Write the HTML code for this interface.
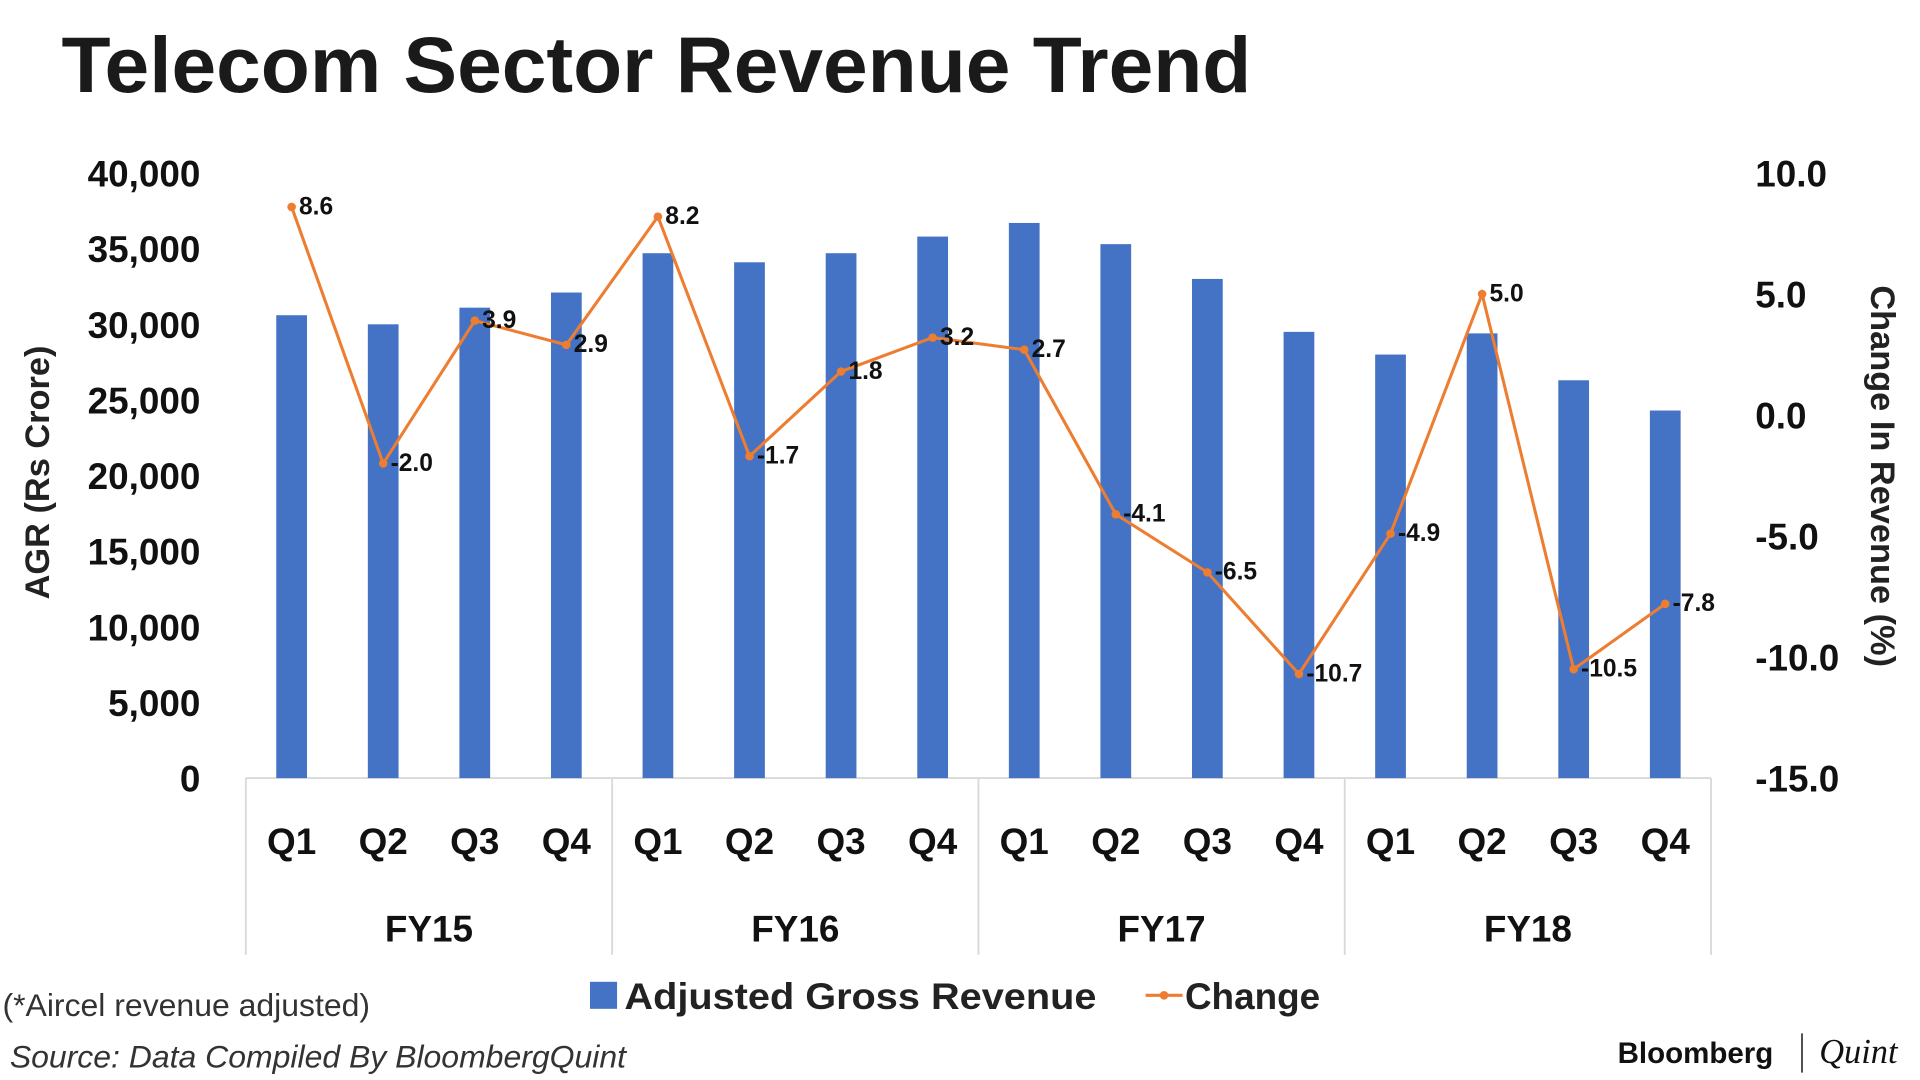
<!DOCTYPE html>
<html><head><meta charset="utf-8"><style>html,body{margin:0;padding:0;background:#fff;}svg{display:block;font-family:"Liberation Sans",sans-serif;}</style></head>
<body>
<svg id="chart" width="1920" height="1080" viewBox="0 0 1562 880" preserveAspectRatio="none" xmlns="http://www.w3.org/2000/svg">
<rect width="1562" height="880" fill="#fff"/>
<text x="50" y="75" font-size="64" font-weight="bold" fill="#1a1a1a" textLength="968" lengthAdjust="spacingAndGlyphs">Telecom Sector Revenue Trend</text>
<text transform="translate(40,385) rotate(-90)" text-anchor="middle" font-size="28" font-weight="bold" fill="#222">AGR (Rs Crore)</text>
<text transform="translate(1522,388) rotate(90)" text-anchor="middle" font-size="28" font-weight="bold" fill="#222">Change In Revenue (%)</text>
<g id="axes"></g>
<g id="bars"></g>
<g id="line"></g>
<g>
<rect x="480" y="800" width="22" height="22" fill="#4472c4"/>
<text x="508" y="822" font-size="30" font-weight="bold" fill="#222" textLength="384" lengthAdjust="spacingAndGlyphs">Adjusted Gross Revenue</text>
<line x1="932" y1="811" x2="962" y2="811" stroke="#ed7d31" stroke-width="2.5"/>
<circle cx="947" cy="811" r="3.5" fill="#ed7d31"/>
<text x="964" y="822" font-size="30" font-weight="bold" fill="#222">Change</text>
</g>
<text x="2" y="828" font-size="26" fill="#333">(*Aircel revenue adjusted)</text>
<text x="8" y="870" font-size="26" font-style="italic" fill="#333">Source: Data Compiled By BloombergQuint</text>
<text x="1316" y="866" font-size="24" font-weight="bold" fill="#111">Bloomberg</text>
<line x1="1466" y1="842" x2="1466" y2="874" stroke="#444" stroke-width="1.5"/>
<text x="1480" y="866" font-size="28" font-style="italic" font-family="Liberation Serif, serif" fill="#111">Quint</text>
</svg>
<script>
const quarters=["Q1","Q2","Q3","Q4","Q1","Q2","Q3","Q4","Q1","Q2","Q3","Q4","Q1","Q2","Q3","Q4"];
const years=["FY15","FY16","FY17","FY18"];
const agr=[30600,30000,31100,32100,34700,34100,34700,35800,36700,35300,33000,29500,28000,29400,26300,24300];
const change=[8.6,-2.0,3.9,2.9,8.2,-1.7,1.8,3.2,2.7,-4.1,-6.5,-10.7,-4.9,5.0,-10.5,-7.8];
const leftTicks=[0,5000,10000,15000,20000,25000,30000,35000,40000];
const rightTicks=[-15,-10,-5,0,5,10];
const NS="http://www.w3.org/2000/svg";
const X0=200,X1=1392,Y0=634,Y1=141;
const step=(X1-X0)/quarters.length;
const xc=i=>X0+step*(i+0.5);
const yL=v=>Y0-(v/40000)*(Y0-Y1);
const yR=v=>Y0-((v+15)/25)*(Y0-Y1);
function mk(tag,attrs,parent,txt){const e=document.createElementNS(NS,tag);for(const k in attrs)e.setAttribute(k,attrs[k]);if(txt!==undefined)e.textContent=txt;parent.appendChild(e);return e;}
const axes=document.getElementById('axes'),bars=document.getElementById('bars'),line=document.getElementById('line');
leftTicks.forEach(v=>{const t=mk('text',{x:163,y:yL(v)+11,'text-anchor':'end','font-size':30,'font-weight':'bold',fill:'#111'},axes,v.toLocaleString('en-US'));

});
rightTicks.forEach(v=>{const t=mk('text',{x:1428,y:yR(v)+11,'font-size':30,'font-weight':'bold',fill:'#111'},axes,v.toFixed(1));

});
mk('line',{x1:X0,y1:Y0,x2:X1,y2:Y0,stroke:'#d9d9d9','stroke-width':1.5},axes);
for(let k=0;k<=years.length;k++){const x=X0+k*4*step;mk('line',{x1:x,y1:Y0,x2:x,y2:778,stroke:'#d9d9d9','stroke-width':1.5},axes);}
quarters.forEach((q,i)=>{const t=mk('text',{x:xc(i),y:696,'text-anchor':'middle','font-size':30,'font-weight':'bold',fill:'#111'},axes,q);

});
years.forEach((y,k)=>{const t=mk('text',{x:X0+(k*4+2)*step,y:767,'text-anchor':'middle','font-size':30,'font-weight':'bold',fill:'#111'},axes,y);

});
agr.forEach((v,i)=>{const r=mk('rect',{x:xc(i)-12.5,y:yL(v),width:25,height:Y0-yL(v),fill:'#4472c4'},bars);

});
const pts=change.map((v,i)=>xc(i)+','+yR(v)).join(' ');
const pl=mk('polyline',{points:pts,fill:'none',stroke:'#ed7d31','stroke-width':2.5},line);


change.forEach((v,i)=>{const c=mk('circle',{cx:xc(i),cy:yR(v),r:3.5,fill:'#ed7d31'},line);


const t=mk('text',{x:xc(i)+6,y:yR(v)+6,'font-size':20,'font-weight':'bold',fill:'#111'},line,v.toFixed(1));

});
</script>
</body></html>
